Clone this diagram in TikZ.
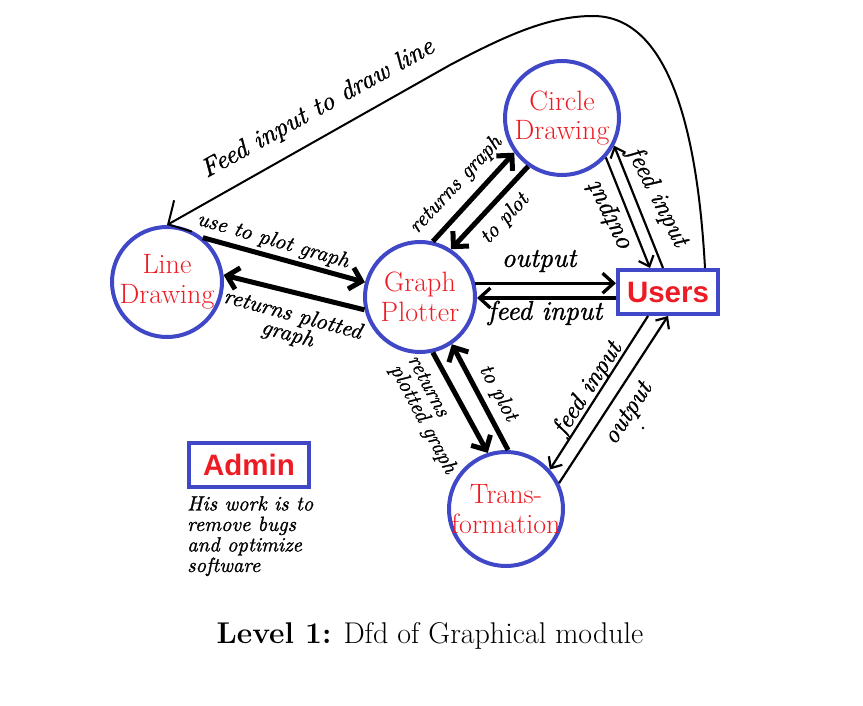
\documentclass[tikz,border=0pt]{standalone}
\usepackage{fontspec}
\newfontfamily\arialfont{Liberation Sans}
\newfontfamily\handfont{lmroman10-italic.otf}[FakeBold=1.2]
\usetikzlibrary{arrows.meta}
\definecolor{cblue}{RGB}{64,72,200}
\definecolor{cred}{RGB}{237,28,36}
\tikzset{
  proc/.style={circle, draw=cblue, line width=4pt, text=cred, align=center,
    inner sep=-8pt, outer sep=2pt, font=\fontsize{28}{29.5}\selectfont},
  ebox/.style={rectangle, draw=cblue, line width=4pt, text=cred,
    font=\arialfont\bfseries\fontsize{29.5}{31}\selectfont, inner sep=0pt, outer sep=2pt},
  thickarr/.style={line width=5pt, -{Straight Barb[length=11pt,width=22pt]}},
  medarr/.style={line width=3.3pt, -{Straight Barb[length=11pt,width=20pt]}},
  thinarr/.style={line width=2.2pt, -{Straight Barb[length=9pt,width=16pt]}},
  curvearr/.style={line width=2pt, -{Straight Barb[length=17pt,width=36pt]}},
  hand/.style={font=\handfont\fontsize{21.5}{24}\selectfont, inner sep=0pt},
}
\begin{document}
\begin{tikzpicture}[x=1pt,y=-1pt]
\useasboundingbox (0,0) rectangle (863,706);

% processes
\node[proc, minimum size=110pt] (ld) at (167,282) {Line\\Drawing};
\node[proc, minimum size=110pt] (gp) at (420,297) {Graph\\Plotter};
\node[proc, minimum size=114pt] (cd) at (562,118) {Circle\\Drawing};
\node[proc, minimum size=114pt] (tr) at (506,509) {Trans-\\formation};

% entities
\node[ebox, minimum width=100pt, minimum height=44pt] (us) at (668,292) {Users};
\node[ebox, minimum width=120pt, minimum height=44pt] (ad) at (249,465) {Admin};

% connectors
\draw[thickarr] (ld.51) -- (gp.165);
\draw[thickarr] (gp.193) -- (ld.7);
\draw[thickarr] (gp.77) -- (cd.216);
\draw[thickarr] (cd.235) -- (gp.57);
\draw[medarr] (gp.14) -- (gp.14 -| us.west);
\draw[medarr] (gp.-1 -| us.west) -- (gp.-1);
\draw[thinarr] (cd.-42) -- ([xshift=34pt]us.north west);
\draw[thinarr] ([xshift=47pt]us.north west) -- (cd.-28);
\draw[thinarr] ([xshift=32pt]us.south west) -- (tr.42);
\draw[thinarr] (tr.26) -- ([xshift=52pt]us.south west);
\draw[thickarr] (gp.-77) -- (tr.108);
\draw[thickarr] (tr.88) -- (gp.-56);
\draw[curvearr] ([xshift=89pt]us.north west) .. controls (698,140) and (672,16) .. (593,16)
  .. controls (548,16) and (505,36) .. (450,65) -- (ld.90);

% labels
\node[hand, rotate=29, font=\handfont\fontsize{26}{28}\selectfont] (l1) at (318,109) {Feed input to draw line};
\node[hand, rotate=-16] (l2) at (273,241) {use to plot graph};
\node[hand, rotate=-15, align=center, font=\handfont\fontsize{22.5}{20}\selectfont] (l3) at (290,325) {returns plotted\\graph};
\node[hand, rotate=47] (l4) at (456,185) {returns graph};
\node[hand, rotate=47] (l5) at (505,219) {to plot};
\node[hand, font=\handfont\fontsize{27}{30}\selectfont] (l6) at (539,261) {output};
\node[hand, font=\handfont\fontsize{27}{30}\selectfont] (l7) at (545,313) {feed input};
\node[hand, rotate=116, font=\handfont\fontsize{27}{30}\selectfont] (l8) at (610,217) {output};
\node[hand, rotate=-63, font=\handfont\fontsize{25.5}{28}\selectfont] (l9) at (657,197) {feed input};
\node[hand, rotate=57, font=\handfont\fontsize{25}{28}\selectfont] (l10) at (588,389) {feed input};
\node[hand, rotate=57, font=\handfont\fontsize{25}{28}\selectfont] (l11) at (629,414) {output};
\fill (643,428) circle (1.3pt);
\node[hand, rotate=-62, align=left, font=\handfont\fontsize{21.5}{20}\selectfont] (l12) at (431,415) {returns\\plotted graph};
\node[hand, rotate=-62] (l13) at (498,393) {to plot};

% admin note
\node[hand, anchor=north west, align=left, font=\handfont\fontsize{20.5}{20.5}\selectfont] (desc) at (187,496)
  {His work is to\\remove bugs\\and optimize\\software};

% caption
\node[font=\fontsize{30}{34}\selectfont] (cap) at (430,636) {\textbf{Level 1:} Dfd of Graphical module};
\end{tikzpicture}
\end{document}
